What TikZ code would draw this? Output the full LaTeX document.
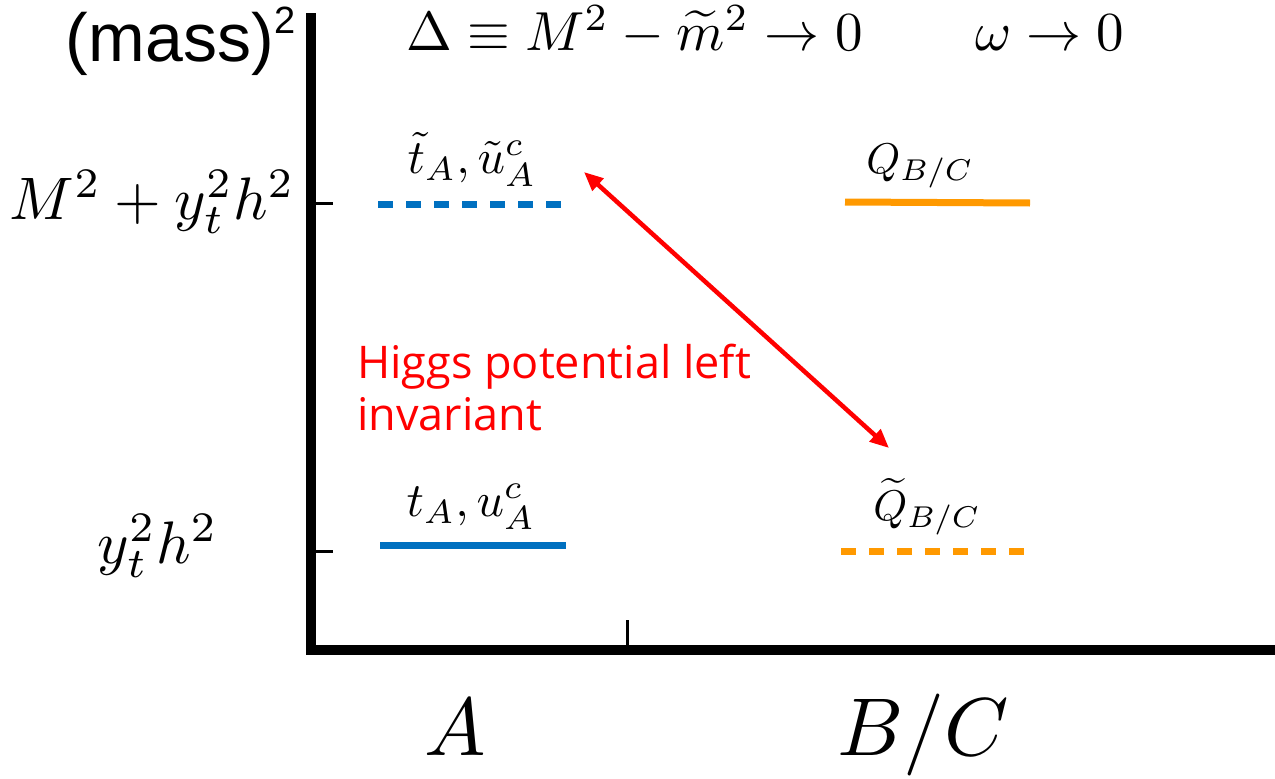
\documentclass[tikz,border=0pt]{standalone}
\usepackage{amsmath,amssymb}
\usepackage{fontspec}
\usetikzlibrary{arrows.meta}
\newfontfamily\arialfont{Liberation Sans}
\newfontfamily\redfont{Open Sans}
\definecolor{lvblue}{HTML}{0070C0}
\definecolor{lvorange}{HTML}{FF9900}
\definecolor{arrred}{HTML}{FF0000}
\tikzset{
  axis/.style={line width=10pt, line cap=rect},
  tickline/.style={line width=3pt},
  levelsolid/.style={line width=7pt},
  leveldashed/.style={line width=7pt, dash pattern=on 15pt off 13pt},
  plain/.style={inner sep=0pt},
  redtxt/.style={inner sep=0pt, text=arrred, align=left, font=\redfont\fontsize{45}{52}\selectfont},
  dblarrow/.style={draw=arrred, line width=4.5pt, {Triangle[length=19pt,width=16pt]}-{Triangle[length=19pt,width=16pt]}}
}
\begin{document}
\begin{tikzpicture}[x=1pt,y=-1pt]
\useasboundingbox (0,0) rectangle (1275,779);
% axes
\coordinate (origin) at (311,650);
\coordinate (ytop) at (311,18);
\coordinate (xend) at (1270,650);
\draw[axis] (ytop) -- (origin) -- (xend);
% ticks
\coordinate (t1a) at (311,203); \coordinate (t1b) at (333,203);
\coordinate (t2a) at (311,551); \coordinate (t2b) at (333,551);
\coordinate (t3a) at (627,650); \coordinate (t3b) at (627,620);
\draw[tickline] (t1a) -- (t1b);
\draw[tickline] (t2a) -- (t2b);
\draw[tickline] (t3a) -- (t3b);
% axis labels
\node[plain, anchor=base east, font=\arialfont\fontsize{68}{76}\selectfont] (mass) at (296,61) {(mass)\kern1pt\raisebox{0.4em}{\fontsize{38}{44}\selectfont 2}};
\node[plain, anchor=base west] (delta) at (406,50) {\scalebox{5.5}{$\Delta\equiv M^2-\widetilde{m}^2\to 0$}};
\node[plain, anchor=base west] (omega) at (975,50) {\scalebox{5.5}{$\omega\to 0$}};
\node[plain, anchor=base east] (lab1) at (295,219) {\scalebox{6.0}{$M^2+y_t^2h^2$}};
\node[plain, anchor=base east] (lab2) at (218,563) {\scalebox{6.0}{$y_t^2h^2$}};
\node[plain, anchor=base] (catA) at (455,755) {\scalebox{8.2}{$A$}};
\node[plain, anchor=base] (catBC) at (923,755) {\scalebox{8.2}{$B/C$}};
% levels
\coordinate (b1a) at (378,204); \coordinate (b1b) at (565,204);
\coordinate (o1a) at (845,202); \coordinate (o1b) at (1030,203);
\coordinate (b2a) at (380,545); \coordinate (b2b) at (566,545);
\coordinate (o2a) at (841,551); \coordinate (o2b) at (1025,551);
\draw[leveldashed, lvblue] (b1a) -- (b1b);
\draw[levelsolid, lvorange] (o1a) -- (o1b);
\draw[levelsolid, lvblue] (b2a) -- (b2b);
\draw[leveldashed, lvorange] (o2a) -- (o2b);
% level labels
\node[plain, anchor=base] (ttA) at (472,173) {\scalebox{4.8}{$\tilde t_A,\tilde u^c_A$}};
\node[plain, anchor=base] (QBC) at (920,173) {\scalebox{4.3}{$Q_{B/C}$}};
\node[plain, anchor=base] (tA) at (471,516) {\scalebox{4.8}{$t_A,u^c_A$}};
\node[plain, anchor=base] (QtBC) at (927,520) {\scalebox{4.3}{$\widetilde Q_{B/C}$}};
% arrow
\coordinate (arrA) at (584,172);
\coordinate (arrB) at (889,448);
\draw[dblarrow] (arrA) -- (arrB);
\node[redtxt, anchor=base west] (higgs) at (357,430) {Higgs potential left\\invariant};
\end{tikzpicture}
\end{document}
